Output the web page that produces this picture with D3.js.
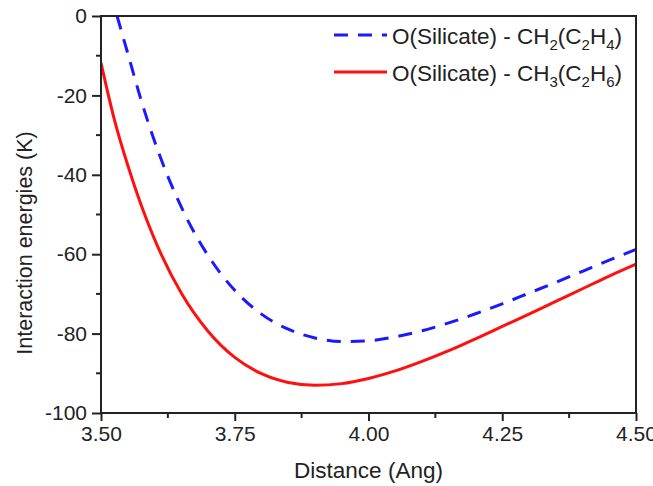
<!DOCTYPE html>
<html>
<head>
<meta charset="utf-8">
<script src="https://cdn.jsdelivr.net/npm/d3@7"></script>
<style>
  body { margin: 0; background: #fff; }
  text { font-family: "Liberation Sans", Arial, sans-serif; fill: #222; }
</style>
</head>
<body>
<div class="chart"></div>
<script>
const margin = {top:16, left:101, right:17, bottom:73};
const width = 653 - margin.left - margin.right,
height = 486 - margin.top - margin.bottom;

// O(Silicate) - CH2(C2H4), blue dashed
const distBlue = [3.53, 3.55, 3.575, 3.60, 3.65, 3.70, 3.75, 3.80, 3.85, 3.90, 3.95, 4.00,
    4.05, 4.10, 4.15, 4.20, 4.25, 4.30, 4.35, 4.40, 4.45, 4.50];
const energyBlue = [0.0, -9.4, -21.2, -31.5, -48.1, -60.3, -69.1, -75.1, -78.9, -81.1, -82.0, -81.8,
    -80.8, -79.3, -77.3, -75.0, -72.5, -69.8, -67.1, -64.3, -61.5, -58.8];

// O(Silicate) - CH3(C2H6), red solid
const distRed = [3.50, 3.525, 3.55, 3.575, 3.60, 3.65, 3.70, 3.75, 3.80, 3.85, 3.90, 3.95, 4.00,
    4.05, 4.10, 4.15, 4.20, 4.25, 4.30, 4.35, 4.40, 4.45, 4.50];
const energyRed = [-11.8, -26.1, -37.6, -47.6, -56.2, -69.8, -79.4, -86.0, -90.1, -92.3, -93.0, -92.6, -91.3,
    -89.4, -87.0, -84.3, -81.3, -78.2, -75.1, -71.9, -68.7, -65.5, -62.5];

const xTicks = [3.50, 3.75, 4.00, 4.25, 4.50];
const xMinor = [3.625, 3.875, 4.125, 4.375];
const yTicks = [0, -20, -40, -60, -80, -100];
const yMinor = [-10, -30, -50, -70, -90];

const svg = d3.select('.chart')
    .append('svg')
    .attr('width', width + margin.left + margin.right)
    .attr('height', height + margin.top + margin.bottom)
    .append("g")
    .attr("transform", "translate(" + margin.left + "," + margin.top + ")");

const xScale = d3.scaleLinear().domain([3.5, 4.5]).range([0, width]);
const yScale = d3.scaleLinear().domain([-100, 0]).range([height, 0]);

svg.append("clipPath").attr("id", "clip")
    .append("rect").attr("width", width).attr("height", height);

const line = d3.line()
    .x(d => xScale(d[0]))
    .y(d => yScale(d[1]))
    .curve(d3.curveMonotoneX);

svg.append("path")
    .datum(distRed.map((d, i) => [d, energyRed[i]]))
    .attr("clip-path", "url(#clip)")
    .attr("fill", "none")
    .attr("stroke", "#ff1010")
    .attr("stroke-width", 3)
    .attr("d", line);

svg.append("path")
    .datum(distBlue.map((d, i) => [d, energyBlue[i]]))
    .attr("clip-path", "url(#clip)")
    .attr("fill", "none")
    .attr("stroke", "#1a1aff")
    .attr("stroke-width", 3)
    .attr("stroke-dasharray", "14,10")
    .attr("d", line);

// axes
const xAxis = d3.axisBottom(xScale).tickValues(xTicks).tickFormat(d3.format(".2f"))
    .tickSizeInner(8).tickSizeOuter(0).tickPadding(5);
const yAxis = d3.axisLeft(yScale).tickValues(yTicks).tickFormat(d => String(d))
    .tickSizeInner(9).tickSizeOuter(0).tickPadding(5);

const gx = svg.append("g")
    .attr("class", "axis x-axis")
    .attr("transform", "translate(0, " + height + ")")
    .call(xAxis);
gx.selectAll(".minor").data(xMinor).enter()
    .append("line")
    .attr("class", "minor")
    .attr("x1", d => xScale(d)).attr("x2", d => xScale(d))
    .attr("y1", 0).attr("y2", 5);

const gy = svg.append("g")
    .attr("class", "axis y-axis")
    .call(yAxis);
gy.selectAll(".minor").data(yMinor).enter()
    .append("line")
    .attr("class", "minor")
    .attr("y1", d => yScale(d)).attr("y2", d => yScale(d))
    .attr("x1", 0).attr("x2", -5);
gx.selectAll("line").attr("stroke", "#222").attr("stroke-width", 2);
gy.selectAll("line").attr("stroke", "#222").attr("stroke-width", 2);
svg.selectAll(".axis .domain").remove();
svg.selectAll(".axis text").style("font-size", "21px").attr("fill", "#222");

// frame
svg.append("rect")
    .attr("width", width).attr("height", height)
    .attr("fill", "none").attr("stroke", "#222").attr("stroke-width", 2);

svg.append("text")
    .attr("x", width / 2).attr("y", height + 65)
    .attr("text-anchor", "middle")
    .style("font-size", "22.5px")
    .text("Distance (Ang)");

svg.append("text")
    .attr("transform", "rotate(-90)")
    .attr("x", -227).attr("y", -69)
    .attr("text-anchor", "middle")
    .style("font-size", "21.5px")
    .text("Interaction energies (K)");

// legend
const legend = svg.append("g").attr("transform", "translate(" + (334 - margin.left) + "," + (35 - margin.top) + ")");
const rows = [
    {color: "#1a1aff", dash: "14,10", sub: ["2", "2", "4"]},
    {color: "#ff1010", dash: null, sub: ["3", "2", "6"]}
];
rows.forEach((r, i) => {
    const g = legend.append("g").attr("transform", "translate(0," + i * 37 + ")");
    g.append("line").attr("x1", 0).attr("x2", 53).attr("y1", 0).attr("y2", 0)
        .attr("stroke", r.color).attr("stroke-width", 3)
        .attr("stroke-dasharray", r.dash);
    const t = g.append("text").attr("x", 58).attr("y", 9).style("font-size", "22.5px");
    t.append("tspan").text("O(Silicate) - CH");
    t.append("tspan").attr("dy", 6).style("font-size", "15px").text(r.sub[0]);
    t.append("tspan").attr("dy", -6).text("(C");
    t.append("tspan").attr("dy", 6).style("font-size", "15px").text(r.sub[1]);
    t.append("tspan").attr("dy", -6).text("H");
    t.append("tspan").attr("dy", 6).style("font-size", "15px").text(r.sub[2]);
    t.append("tspan").attr("dy", -6).text(")");
});
</script>
</body>
</html>
